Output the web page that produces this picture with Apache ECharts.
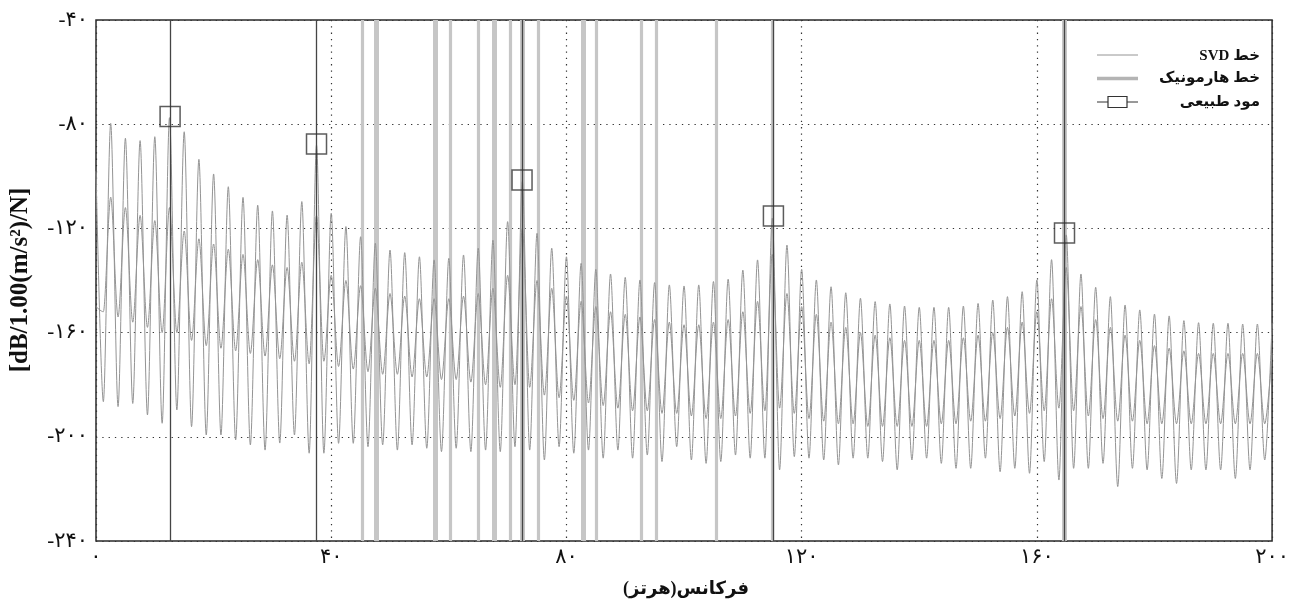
<!DOCTYPE html>
<html>
<head>
<meta charset="utf-8">
<script src="https://cdn.jsdelivr.net/npm/echarts@6/dist/echarts.min.js"></script>
<style>
  html, body { margin: 0; padding: 0; background: #ffffff; }
  #chart { width: 1292px; height: 602px; }
</style>
</head>
<body>
<div id="chart"></div>
<script>
// Spacing (Hz) of the ripple in the SVD spectra: peaks at k*CYCLE_HZ, troughs half-way between
const CYCLE_HZ = 2.5;

// First singular-value line: ripple peak levels (dB) for k = 0..80
const svd1Peaks = [
  -98, -79.7, -85.4, -86.3, -84.8, -77.5, -82.9, -93.5, -99.1, -104.0,
  -108.1, -111.1, -113.3, -114.9, -109.7, -88, -114.2, -119.3, -123.2, -125.7,
  -128.3, -129.3, -130.9, -132.1, -131.5, -130.2, -127.6, -124.5, -117.4, -102,
  -121.9, -127.6, -130.9, -133.4, -135.7, -137.5, -138.8, -139.8, -140.8, -141.7,
  -142.1, -141.7, -140.4, -139.5, -136, -132.1, -116.1, -126.4, -135.7, -139.8,
  -142.4, -144.7, -146.8, -148.1, -149, -149.8, -150.3, -150.3, -150.3, -149.8,
  -148.8, -147.5, -146.2, -144.3, -139.8, -132, -122.5, -137.5, -142.6, -146.2,
  -149.4, -151.3, -152.9, -153.6, -155.4, -156.2, -156.4, -156.4, -156.7, -156.7,
  -156.2
];
// First singular-value line: ripple trough levels (dB) for k = 0..79
const svd1Troughs = [
  -186.5, -188.4, -187.2, -191.6, -194.8, -189.7, -196.1, -199.3, -199.3, -201.2,
  -203.1, -205.1, -202.4, -199.3, -206.3, -206.3, -202.5, -202.5, -203.8, -203.1,
  -205.1, -203.1, -204.4, -205.7, -204.4, -205.7, -205.1, -205.7, -203.8, -205.1,
  -208.9, -203.8, -206.3, -205.1, -208.2, -205.1, -208.2, -207, -209.5, -203.8,
  -208.9, -210.2, -209.5, -207, -208.2, -208.2, -212.7, -207.6, -208.2, -208.9,
  -210.8, -208.2, -208.2, -209.5, -212.7, -208.9, -208.2, -210.2, -212.1, -212.1,
  -208.2, -213.4, -212.1, -214, -209.5, -216.6, -212.1, -212.1, -210.2, -219.1,
  -212.1, -212.7, -216, -217.9, -212.7, -212.7, -212.7, -216, -212.7, -208.9
];

// Second singular-value line: ripple peak levels (dB) for k = 0..80
const svd2Peaks = [
  -150, -108, -112, -115, -117, -112, -121, -124, -126, -128,
  -130, -132, -134, -135, -133, -115, -138, -140, -142, -143,
  -145, -146, -147, -147, -147, -146, -145, -143, -138, -120,
  -140, -143, -146, -148, -150, -152, -153, -154, -155, -156,
  -157, -157, -156, -155, -152, -148, -130, -145, -150, -153,
  -156, -158, -160, -161, -162, -163, -163, -163, -163, -162,
  -161, -160, -158, -156, -152, -147, -135, -150, -155, -158,
  -161, -163, -165, -166, -167, -168, -168, -168, -168, -168,
  -168
];
// Second singular-value line: ripple trough levels (dB) for k = 0..79
const svd2Troughs = [
  -152, -154, -156, -158, -160, -160, -163, -165, -166, -167,
  -168, -169, -170, -171, -172, -171, -173, -174, -175, -176,
  -176, -177, -177, -178, -178, -179, -180, -181, -180, -181,
  -184, -185, -186, -187, -188, -189, -190, -190, -191, -191,
  -192, -193, -193, -192, -191, -190, -189, -191, -193, -194,
  -195, -195, -196, -196, -196, -196, -196, -195, -195, -194,
  -194, -193, -192, -191, -190, -189, -190, -192, -193, -194,
  -194, -195, -195, -195, -195, -195, -195, -195, -195, -195
];

// Harmonic lines (Hz)
const harmonicFreqs = [45.2, 47.7, 57.7, 60.3, 65.0, 67.8, 70.5, 72.5, 75.2, 82.8, 85.0, 92.7, 95.3, 105.5, 115.0, 164.7];
// Harmonic lines drawn as a wider band
const wideHarmonics = [47.7, 57.7, 67.8, 72.5, 82.8, 164.7];

// Natural modes: frequency (Hz) and peak level (dB)
const modeFreqs = [12.6, 37.5, 72.45, 115.2, 164.7];
const modeLevels = [-77, -87.6, -101.4, -115.2, -121.8];

// Axis ticks
const xTicks = { min: 0, max: 200, step: 40 };
const yTicks = { min: -240, max: -40, step: 40 };

// Texts
const yTitle = '[dB/1.00(m/s\u00B2)/N]';
const xTitle = 'فرکانس(هرتز)';
const legendNames = ['خط SVD', 'خط هارمونیک', 'مود طبیعی'];

const FA_DIGITS = '۰۱۲۳۴۵۶۷۸۹';
function toPersian(n) {
  return String(n).replace(/\d/g, d => FA_DIGITS[+d]);
}
// Right-to-left embedding so Persian phrases keep their reading order on the canvas
function rtl(s) { return '\u202B' + s + '\u202C'; }

// Alternate peaks and troughs into one [freq, dB] polyline
function ripple(peaks, troughs) {
  const pts = [];
  for (let k = 0; k < peaks.length; k++) {
    pts.push([k * CYCLE_HZ, peaks[k]]);
    if (k < troughs.length) pts.push([k * CYCLE_HZ + CYCLE_HZ / 2, troughs[k]]);
  }
  return pts;
}

const SERIF = "'Liberation Serif', 'DejaVu Serif', 'DejaVu Sans', serif";
const chart = echarts.init(document.getElementById('chart'), null, { renderer: 'canvas' });

const svdLineStyle = { color: '#949494', width: 1 };
const gridDots = { color: '#333', width: 1.2, type: [1.3, 5] };

const option = {
  animation: false,
  backgroundColor: '#ffffff',
  grid: {
    left: 96, right: 17, top: 20, bottom: 61,
    show: true, borderColor: '#2a2a2a', borderWidth: 1.5, backgroundColor: 'transparent'
  },
  xAxis: {
    type: 'value', min: xTicks.min, max: xTicks.max, interval: xTicks.step,
    axisLine: { show: false }, axisTick: { show: false },
    axisLabel: {
      margin: 6, color: '#111', fontSize: 21, fontFamily: SERIF,
      formatter: v => toPersian(v)
    },
    splitLine: { show: true, lineStyle: gridDots }
  },
  yAxis: {
    type: 'value', min: yTicks.min, max: yTicks.max, interval: yTicks.step,
    axisLine: { show: false }, axisTick: { show: false },
    axisLabel: {
      margin: 8, color: '#111', fontSize: 21, fontFamily: SERIF,
      formatter: v => (v < 0 ? '-' : '') + toPersian(Math.abs(v))
    },
    splitLine: { show: true, lineStyle: gridDots }
  },
  series: [
    {
      name: legendNames[1], type: 'line', data: [], z: 1, silent: true,
      markLine: {
        silent: true, symbol: ['none', 'none'], label: { show: false },
        animation: false, z: 1,
        data: harmonicFreqs.map(f => ({
          xAxis: f,
          lineStyle: { color: '#c6c6c6', type: 'solid', width: wideHarmonics.includes(f) ? 5 : 3.2 }
        }))
      }
    },
    {
      name: legendNames[0], type: 'line', z: 2, silent: true,
      data: ripple(svd1Peaks, svd1Troughs),
      showSymbol: false, smooth: 0.3, smoothMonotone: 'x',
      lineStyle: svdLineStyle
    },
    {
      name: legendNames[0] + ' 2', type: 'line', z: 2, silent: true,
      data: ripple(svd2Peaks, svd2Troughs),
      showSymbol: false, smooth: 0.3, smoothMonotone: 'x',
      lineStyle: svdLineStyle
    },
    {
      name: legendNames[2], type: 'scatter', z: 6, silent: true,
      data: modeFreqs.map((f, i) => [f, modeLevels[i]]),
      symbol: 'rect', symbolSize: 20,
      itemStyle: { color: 'rgba(255,255,255,0)', borderColor: '#333', borderWidth: 1.5 },
      markLine: {
        silent: true, symbol: ['none', 'none'], label: { show: false },
        animation: false, z: 5,
        data: modeFreqs.map(f => ({ xAxis: f })),
        lineStyle: { color: '#454545', type: 'solid', width: 1.3 }
      }
    }
  ],
  graphic: [
    // y-axis title
    {
      type: 'text', x: 21, y: 280, rotation: Math.PI / 2,
      style: {
        text: yTitle, fill: '#111', font: 'bold 25px ' + SERIF,
        align: 'center', verticalAlign: 'middle'
      }
    },
    // x-axis title
    {
      type: 'text', x: 686, y: 589,
      style: {
        text: rtl(xTitle), fill: '#111', font: 'bold 18px ' + SERIF,
        align: 'center', verticalAlign: 'middle'
      }
    },
    // legend
    { type: 'line', shape: { x1: 1097, y1: 55, x2: 1138, y2: 55 }, style: { stroke: '#949494', lineWidth: 1 } },
    { type: 'line', shape: { x1: 1097, y1: 78.5, x2: 1138, y2: 78.5 }, style: { stroke: '#b4b4b4', lineWidth: 3.5 } },
    { type: 'line', shape: { x1: 1097, y1: 102, x2: 1138, y2: 102 }, style: { stroke: '#333', lineWidth: 1 } },
    { type: 'rect', shape: { x: 1108, y: 96.5, width: 19, height: 11 }, style: { stroke: '#333', fill: '#fff', lineWidth: 1.2 } },
    {
      type: 'text', x: 1260, y: 56,
      style: { text: rtl(legendNames[0]), fill: '#111', font: 'bold 15px ' + SERIF, align: 'right', verticalAlign: 'middle' }
    },
    {
      type: 'text', x: 1260, y: 78,
      style: { text: rtl(legendNames[1]), fill: '#111', font: 'bold 15px ' + SERIF, align: 'right', verticalAlign: 'middle' }
    },
    {
      type: 'text', x: 1260, y: 102,
      style: { text: rtl(legendNames[2]), fill: '#111', font: 'bold 15px ' + SERIF, align: 'right', verticalAlign: 'middle' }
    }
  ]
};

chart.setOption(option);
</script>
</body>
</html>
